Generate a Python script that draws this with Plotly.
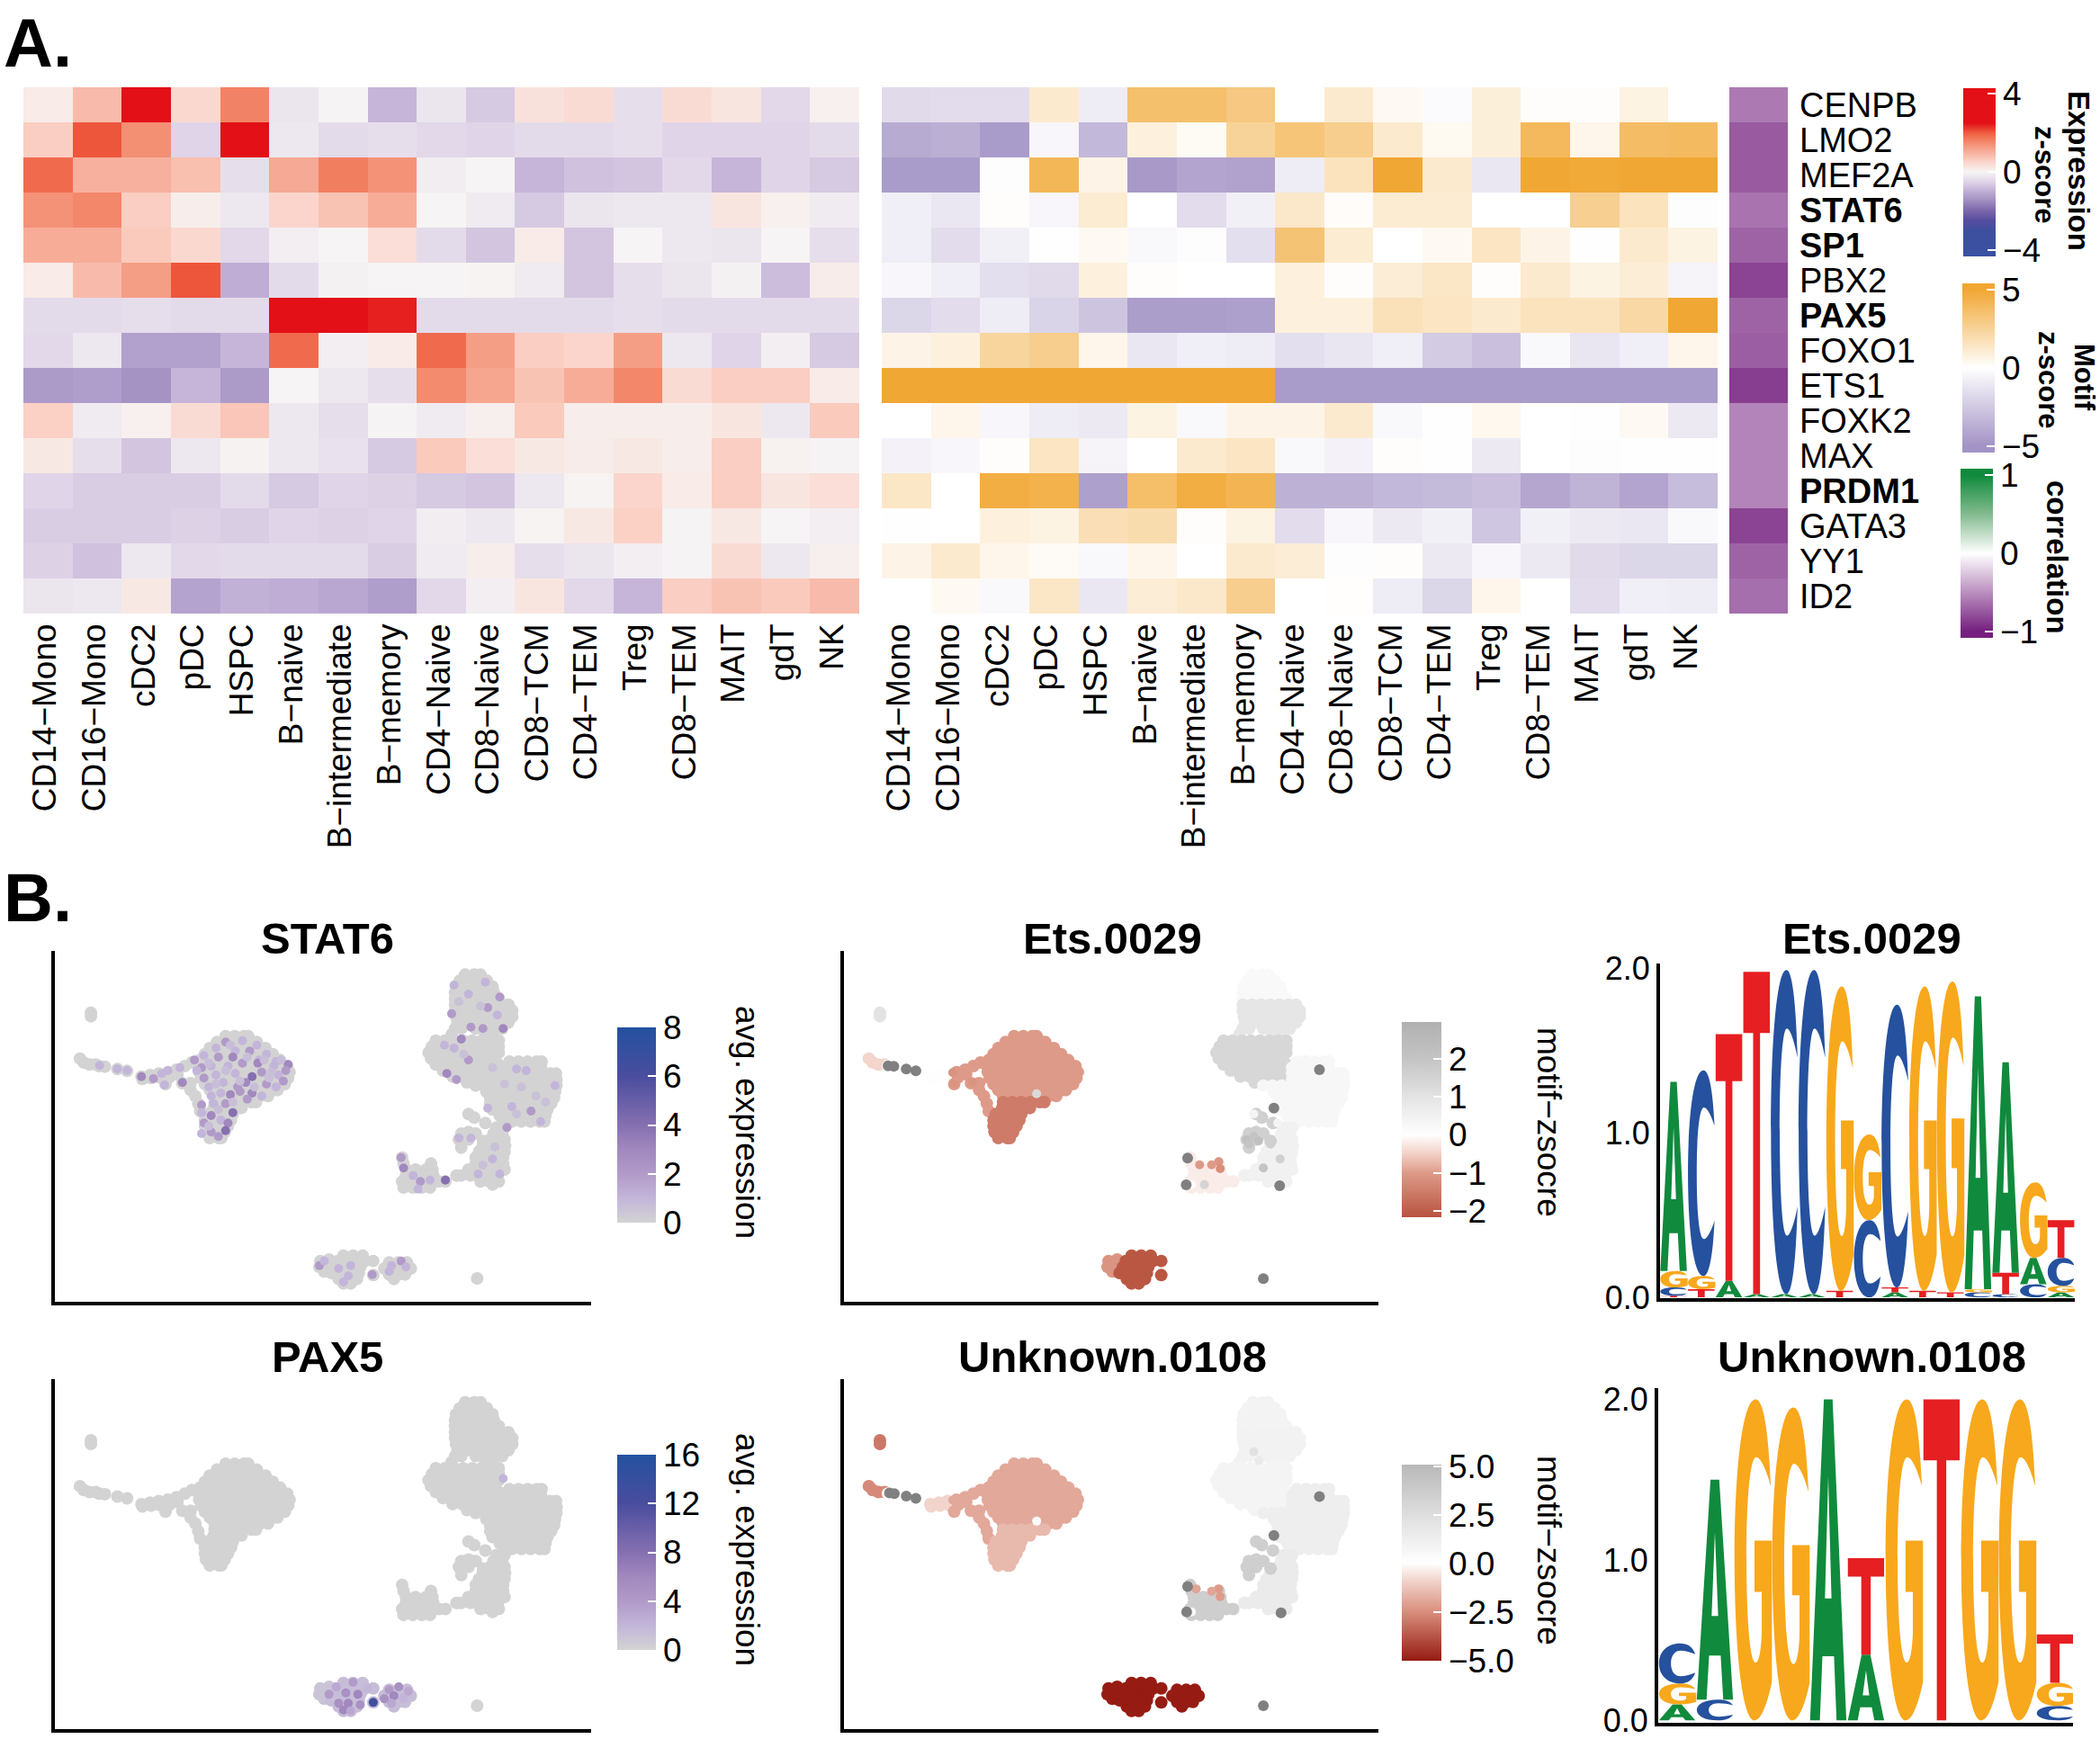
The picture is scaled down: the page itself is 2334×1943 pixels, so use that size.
import plotly.graph_objects as go

W, H = 2334, 1943
FONT = "Liberation Sans"

CELLS = ["CD14−Mono","CD16−Mono","cDC2","pDC","HSPC","B−naive","B−intermediate","B−memory",
         "CD4−Naive","CD8−Naive","CD8−TCM","CD4−TEM","Treg","CD8−TEM","MAIT","gdT","NK"]
GENES = ["CENPB","LMO2","MEF2A","STAT6","SP1","PBX2","PAX5","FOXO1","ETS1","FOXK2","MAX","PRDM1","GATA3","YY1","ID2"]
BOLD_GENES = ["STAT6","SP1","PAX5","PRDM1"]

EXPR = [
 [.15,.85,2.5,.45,1.6,-.25,-.02,-.9,-.25,-.65,.3,.4,-.35,.4,.25,-.45,.07],
 [.6,2.05,1.45,-.5,2.5,-.2,-.4,-.35,-.45,-.5,-.4,-.4,-.35,-.5,-.5,-.5,-.4],
 [1.85,1.0,1.0,.8,-.35,1.1,1.65,1.4,-.12,0,-.9,-.75,-.7,-.45,-.9,-.5,-.65],
 [1.4,1.55,.6,.1,-.2,.5,.75,1.05,0,-.15,-.65,-.25,-.2,-.2,.25,.07,-.15],
 [1.05,1.05,.65,.45,-.45,-.1,0,.35,-.4,-.7,.15,-.7,0,-.2,-.25,0,-.35],
 [.15,.85,1.25,2.05,-1.0,-.4,-.05,0,0,.02,-.15,-.7,-.35,-.25,-.05,-.8,.13],
 [-.4,-.4,-.35,-.4,-.4,2.5,2.5,2.4,-.4,-.4,-.4,-.4,-.35,-.4,-.4,-.4,-.4],
 [-.45,-.2,-1.2,-1.2,-.9,1.85,-.1,.15,1.85,1.25,.6,.5,1.25,-.2,-.5,-.1,-.65],
 [-1.3,-1.25,-1.4,-.9,-1.3,0,-.2,-.35,1.5,1.15,.75,1.05,1.55,.4,.6,.6,.15],
 [.55,-.15,.07,.4,.7,-.2,-.35,-.02,-.15,.08,.65,.1,.12,.1,.25,-.2,.65],
 [.2,-.35,-.7,-.2,.03,-.2,-.3,-.65,.65,.35,.2,.13,.2,.12,.6,.05,-.02],
 [-.5,-.6,-.6,-.6,-.4,-.65,-.5,-.55,-.65,-.7,-.2,.02,.5,.15,.6,.25,.35],
 [-.6,-.6,-.6,-.55,-.6,-.5,-.55,-.5,-.12,-.2,.02,.2,.55,-.02,.2,0,-.1],
 [-.55,-.75,-.2,-.45,-.4,-.4,-.4,-.6,-.15,.1,-.35,-.25,-.1,-.02,.4,-.2,.08],
 [-.25,-.2,.2,-1.15,-.95,-1,-1.1,-1.25,-.45,-.1,.25,-.45,-.9,.6,.75,.65,.85],
]
MOTIF = [
 [-1.7,-1.6,-1.6,1.2,-.9,3.6,3.6,3.1,0,1.2,.3,-.2,.9,.1,.1,.7,0],
 [-3.9,-3.7,-4.6,-.4,-3.3,.8,.25,2.5,3.3,2.8,1.2,.35,.9,4,.5,3.8,3.9],
 [-4.6,-4.6,-.1,4.1,.6,-4.7,-4.2,-4.3,-.9,1.6,5,1.2,-1.1,5,4.9,5,5],
 [-.8,-1.1,.1,-.4,1.1,0,-1.6,-.7,1.3,.15,1.1,1.1,0,0,2.7,1.6,-.1],
 [-.8,-1.6,-.7,-.05,.3,-.3,-.1,-1.5,3.4,1.1,0,.3,1.5,.6,-.05,1.2,.7],
 [-.4,-.8,-1.5,-1.7,.8,.1,0,0,.8,.1,1,1.4,.1,1.2,.7,1,-.5],
 [-1.9,-1.6,-.9,-2,-2.7,-4.5,-4.5,-4.4,.8,.8,1.7,1.5,1.2,1.6,1.6,2.2,5],
 [.6,.8,2.4,2.8,.5,-1.1,-.8,-.9,-1.5,-1.2,-.8,-2.4,-2.9,-.3,-1.2,-.8,.5],
 [5,5,5,5,5,5,5,5,-4.6,-4.6,-4.6,-4.6,-4.6,-4.6,-4.6,-4.6,-4.6],
 [0,.5,-.4,-.9,-1,.7,-.3,.6,.6,1.2,-.3,-.03,.4,0,-.03,.3,-1],
 [-.6,-.4,.1,1.5,-.5,0,1.2,1.5,-.3,-.6,.1,-.03,-1,0,-.1,-.05,-.05],
 [1.4,0,4.6,4.4,-4.4,3.7,4.6,4.2,-3.6,-3.6,-3.3,-3.2,-2.9,-4.1,-3.5,-4.2,-3.1],
 [-.05,0,.8,.7,1.8,2,.1,.7,-1.6,-.4,-1,-.7,-2.6,-.7,-1,-1.1,-.3],
 [.6,1.2,.5,.2,-.3,.5,0,1.2,1,-.1,.1,-1,-.4,-1,-1.7,-1.9,-1.9],
 [0,.3,-.3,1.4,-1.1,1,1.3,2.8,0,.05,-.9,-1.9,.5,-.02,-1.6,-.8,-.9],
]
CORR = [-.6,-.74,-.74,-.63,-.7,-.84,-.7,-.72,-.87,-.55,-.55,-.55,-.84,-.7,-.65]

# UMAP clusters: rows of (y, [x, ...])
DOT1 = [(362,[115]),(374,[115])]
LT1 = [(515,[92]),(528,[100]),(535,[112,125])]
LT2 = [(540,[132]),(542,[144]),(550,[170]),(556,[190])]
TAIL1 = [(575,[220]),(570,[238]),(565,[256]),(583,[222]),(580,[240]),(578,[258])]
TAIL2 = [(560,[275]),(552,[293]),(540,[310]),(528,[325]),(578,[278]),(568,[295]),(600,[270]),(597,[305,322]),(620,[322]),(640,[332]),(665,[338]),(690,[342])]
MONO = [(440,[395,414,433,442]),(460,[377,396,415,434,453,460]),(480,[362,381,400,419,438,457,478]),
        (500,[352,371,390,409,428,447,466,485,493]),(520,[342,361,380,399,418,437,456,475,494,508]),
        (540,[339,358,377,396,415,434,453,472,491,510,523]),(560,[340,359,378,397,416,435,454,473,492,511,528]),
        (580,[344,363,382,401,420,439,458,477,496,515,525]),(600,[352,371,390,409,428,447,466,485,504,518]),
        (620,[362,381,400,419,438,457,476,495,503]),(640,[372,391,410,429,448,467,483])]
CONE = [(660,[372,391,410,429,448,458]),(680,[370,389,408,428]),(700,[357,376,395,410]),(720,[352,371,390,406]),
        (740,[352,371,390,400]),(760,[354,373,393]),(780,[362,381,386])]
T_TOP = [(235,[893,912,925]),(255,[882,901,920,938]),(275,[874,893,912,931,950]),(295,[872,891,910,929,953]),(315,[872,891,910,929,948,963])]
T_NECK = [(335,[872,891,910,929,948,967,983]),(355,[872,891,910,929,948,967,991]),(375,[874,893,912,931,950,969,991]),
          (395,[877,896,915,934,953,972,983]),(415,[872,885,915,934,953,970]),(435,[865,935,950])]
T_MIDL = [(455,[832,851,870,889,908,927,946,963]),(475,[824,843,862,881,900,919,938,957,963]),(495,[817,836,855,874,893,912,931,950,963]),
          (515,[822,841,860,879,898,917,936,955]),(535,[832,851,870,889,908,927,946,963]),(555,[847,866,885,904,923,942,961]),
          (575,[867,886,905,924,943,962]),(595,[897,916,935,954])]
T_RIGHT = [(525,[985,1004,1023,1042,1052]),(545,[975,994,1013,1032,1051]),(565,[975,994,1013,1032,1051,1070,1082]),
           (585,[975,994,1013,1032,1051,1070,1083]),(605,[915,934,953,975,994,1013,1032,1051,1070,1083]),
           (625,[937,956,975,994,1013,1032,1051,1070,1080]),(645,[945,964,983,1002,1021,1040,1059,1078]),
           (665,[945,964,983,1002,1021,1040,1059,1072]),(685,[950,969,988,1007,1026,1045,1064]),
           (705,[965,984,1003,1022,1041,1060]),(725,[975,990,1010,1029,1048,1058])]
T_STRIP = [(745,[958,975]),(765,[952,970]),(785,[945,962,975]),(805,[930,949,968,976]),(825,[922,941,960,975]),(845,[915,934,953,972]),
           (865,[915,934,953,972]),(885,[900,919,938,957,975]),(905,[875,885,904,923,942,961]),(925,[925,944,963]),(935,[950])]
T_SMALL = [(700,[900]),(712,[912]),(730,[935]),(765,[885,915]),(760,[900]),(785,[880,900]),(812,[885]),(790,[930])]
LEFT_CL = [(845,[762]),(865,[765,822]),(885,[770,790,812,825]),(905,[770,789,808,827]),(925,[762,781,800,819,838,852]),(945,[765,784,803,820])]
B_L = [(1190,[592]),(1185,[610]),(1210,[590]),(1205,[605]),(1225,[600])]
B_C = [(1172,[640,660,680]),(1190,[628,647,666,685,702]),(1210,[622,641,660,675]),(1230,[615,634,653,672]),(1250,[630,650,668]),(1265,[640,655]),(1237,[702])]
B_R = [(1195,[735,754,772]),(1215,[725,744,763,780]),(1235,[735,754,768]),(1250,[745])]
NK = [(1248,[918])]
CLUSTERS = [DOT1,LT1,LT2,TAIL1,TAIL2,MONO,CONE,T_TOP,T_NECK,T_MIDL,T_RIGHT,T_STRIP,T_SMALL,LEFT_CL,B_L,B_C,B_R,NK]

# per-cluster colour values, same order as CLUSTERS
STAT6_BASE = [0]*18
PAX5_BASE = [0,0,0,0,0,0,0,0,0,0,0,0,0,0,1,1.5,1.5,0]
ETS_BASE = [1.0,-.45,0,.03,-1,-1,-1.5,.2,.9,1.4,.3,.5,1.6,-.2,-1.1,-2.1,0,0]
UNK_BASE = [-3,-2.6,0,-.9,-1.9,-1.9,-1.5,.9,1,.8,1.3,1.5,3.5,3.6,-5,-5,-5,0]

STAT6_SPOTS_X = [395,430,460,375,415,445,480,350,380,410,465,500,525,330,345,365,400,430,462,495,520,335,350,375,415,450,437,470,505,515,360,390,420,450,480,500,365,385,405,425,440,470,345,370,395,410,365,345,350,385,400,395,365,345,380,
                 220,245,262,300,275,190,170,133,305,268,
                 870,900,935,965,940,960,865,905,930,972,885,850,900,870,855,875,1000,1020,1080,990,1030,1050,980,940,880,905,950,965,920,765,760,785,800,820,852,795,
                 590,600,630,655,650,640,700,740,760,735,770,
                 405,440,475,360,395,425,485,510,375,455,490,410,380,360,
                 880,925,890,950,1040,1010,975,1060,1000,955,930,
                 ]
STAT6_SPOTS_Y = [460,455,470,480,490,490,500,505,510,510,520,525,535,520,545,540,540,530,530,540,555,555,580,570,565,575,595,560,570,590,610,595,610,630,600,610,640,630,635,625,650,640,670,665,665,695,705,695,730,720,730,755,760,765,775,
                 575,582,565,545,555,555,550,538,595,603,
                 270,300,260,310,345,370,365,410,415,415,450,470,520,480,565,585,550,555,605,675,690,725,745,680,780,780,850,900,900,880,845,905,925,920,920,950,
                 1205,1190,1215,1205,1240,1260,1235,1205,1190,1225,1210,
                 470,510,520,530,555,590,580,520,600,610,560,660,685,740,
                 325,340,500,545,640,610,600,660,700,810,870,
                 ]
STAT6_SPOTS_V = [2,1,1,1,1,2,1,1,2,3,1,1,3,2,2,1,1,2,3,1,2,1,2,1,1,4,3,2,1,2,1,1,2,3,2,1,1,1,3,2,2,1,2,1,2,4,3,1,2,1,3,4,2,1,2,
                 3,2,1,1,1,1,1,1,3,1,
                 1,1,1,2,2,1,2,2,2,3,3,1,2,1,3,2,1,1,1,1,2,1,2,1,1,1,1,1,1,3,2,1,2,1,4,1,
                 2,1,1,1,1,1,2,1,2,1,1,
                 .7,.7,.7,.7,.7,.7,.7,.7,.7,.7,.7,.7,.7,.7,
                 .6,.6,.6,.6,.6,.6,.6,.6,.6,.6,.6]
PAX5_SPOTS_X = [590,610,625,645,660,670,630,650,640,655,675,735,755,775,745,725,765,740,690,972,702]
PAX5_SPOTS_Y = [1190,1210,1185,1205,1170,1210,1240,1240,1262,1265,1245,1195,1185,1200,1215,1225,1225,1240,1190,490,1237]
PAX5_SPOTS_V = [1,4,3,5,4,6,5,6,6,3,5,4,5,3,6,5,2,3,2,2,13]

ETS_DARK_X = [132,144,170,190,915,757,754,949,1032,937]
ETS_DARK_Y = [539,541,550,556,1249,847,936,939,552,680]
ETS_SPOTS_X = [442,880,895,905,885,950,915,822,825,807,782,267,270,309,765,792,895,945,930]
ETS_SPOTS_Y = [632,785,775,790,800,850,880,859,882,869,869,562,599,594,935,935,700,730,800]
ETS_SPOTS_V = [1.3,2.2,2.0,2.2,2.0,1.6,2,-1.1,-1.2,-1,-1,-1.1,-1.1,-1.1,.1,1.5,.4,.4,1.6]
UNK_DARK_X = [135,145,170,190,915,757,755,952,1032,937]
UNK_DARK_Y = [538,540,548,556,1248,850,935,938,550,680]
UNK_SPOTS_X = [442,822,825,807,775,267,270,309,765,895,905]
UNK_SPOTS_Y = [632,858,884,866,858,562,600,594,935,400,430]
UNK_SPOTS_V = [.3,-2.2,-2.2,-2,-2,-1.9,-1.9,-1.9,.5,2.2,1.5]

# sequence logos: per position, letters from the bottom up with heights in bits
LOGO_ETS = [
 [("T",.01),("C",.05),("G",.1),("A",1.15)],[("T",.05),("G",.08),("C",1.25)],[("A",.1),("T",1.5)],
 [("A",.02),("T",1.96)],[("A",.02),("C",1.97)],[("A",.02),("C",1.97)],[("T",.04),("G",1.85)],
 [("C",.47),("G",.52)],[("A",.03),("T",.03),("C",1.72)],[("T",.04),("G",1.85)],[("T",.03),("G",1.89)],
 [("C",.03),("G",.02),("A",1.78)],[("C",.02),("T",.13),("A",1.28)],[("C",.08),("A",.16),("G",.46)],
 [("A",.03),("G",.04),("C",.17),("T",.23)],
]
LOGO_UNK = [
 [("A",.1),("G",.13),("C",.25)],[("C",.13),("A",1.37)],[("G",2.0)],[("G",1.95)],[("A",2.0)],
 [("A",.41),("T",.6)],[("G",2.0)],[("T",2.0)],[("G",2.0)],[("G",2.0)],[("C",.09),("G",.145),("T",.3)],
]
LETTER_COLORS = {"A":"#108A3C","C":"#25519E","G":"#F8A81C","T":"#E61F22"}
GLYPHS = {
 "T":"M0,1 L1,1 L1,.81 L.63,.81 L.63,0 L.37,0 L.37,.81 L0,.81 Z",
 "A":"M0,0 L.38,1 L.62,1 L1,0 L.73,0 L.66,.2 L.34,.2 L.27,0 Z M.41,.38 L.59,.38 L.5,.76 Z",
 "C":"M1,.73 C.93,.92 .78,1 .58,1 C.22,1 0,.78 0,.5 C0,.22 .22,0 .58,0 C.78,0 .93,.08 1,.27 C.88,.22 .72,.18 .6,.18 C.42,.18 .33,.32 .33,.5 C.33,.68 .42,.82 .6,.82 C.72,.82 .88,.78 1,.73 Z",
 "G":"M1,.73 C.93,.92 .78,1 .58,1 C.22,1 0,.78 0,.5 C0,.22 .22,0 .55,0 C.75,0 .92,.06 1.03,.12 L1.03,.56 L.55,.56 L.55,.40 L.75,.40 L.75,.27 C.72,.2 .65,.18 .58,.18 C.42,.18 .33,.32 .33,.5 C.33,.68 .42,.82 .6,.82 C.72,.82 .88,.78 1,.73 Z",
}

def fx(p): return p / W
def fy(p): return 1 - p / H
def cs(points, zmin, zmax):
    return [[(z - zmin) / (zmax - zmin), c] for z, c in points]

EXPR_RANGE = (-4.34, 4.3)
EXPR_CS = cs([(-4.34,"#3A50A1"),(-3,"#3D509F"),(-2.5,"#574CA0"),(-2,"#7A66AB"),(-1.5,"#9F8DC0"),(-1,"#BFADD5"),(-.5,"#E0D5E8"),
              (0,"#F6F4F4"),(.5,"#FBD5CB"),(1,"#F7B09D"),(1.5,"#F38B6E"),(2,"#EE5E3F"),(2.5,"#E31017"),(4.3,"#E31017")],*EXPR_RANGE)
MOTIF_RANGE = (-5.43, 5.43)
MOTIF_CS = cs([(-5.43,"#A193C6"),(-5,"#A393C5"),(0,"#FFFFFF"),(5,"#F1A733"),(5.43,"#F1A733")],*MOTIF_RANGE)
CORR_RANGE = (-1.085, 1.085)
CORR_CS = cs([(-1.085,"#75207F"),(-1,"#75207F"),(0,"#FFFFFF"),(.5,"#83BB8F"),(1,"#108A3C"),(1.085,"#108A3C")],*CORR_RANGE)
PURPLE_POINTS = [(0,"#D3D3D3"),(.125,"#C3B5DA"),(.25,"#B19AC8"),(.375,"#A188BE"),(.5,"#8570B0"),(.75,"#4A4D9E"),(1,"#23519F")]
STAT6_CS = cs([(8*t,c) for t,c in PURPLE_POINTS],0,8)
PAX5_CS = cs([(16*t,c) for t,c in PURPLE_POINTS],0,16)
ETS_RANGE = (-2.16, 2.96)
ETS_CS = cs([(-2.16,"#B8533F"),(-1,"#DE9A88"),(-.5,"#F2D0C6"),(0,"#FFFFFF"),(1,"#E3E3E3"),(2,"#C4C4C4"),(2.96,"#B0B0B0")],*ETS_RANGE)
UNK_RANGE = (-5.02, 5.08)
UNK_CS = cs([(-5.02,"#951B12"),(-2.5,"#D98E7C"),(-1,"#F0CFC6"),(0,"#FFFFFF"),(2.5,"#DEDEDE"),(5.08,"#B8B8B8")],*UNK_RANGE)

def colorbar(left, right, top, bottom, tickvals, fmt=None, size=37, prefix=""):
    cb = dict(x=fx(left), xanchor="left", xpad=0, y=fy(bottom), yanchor="bottom", ypad=0,
              len=bottom-top, lenmode="pixels", thickness=right-left, thicknessmode="pixels",
              outlinewidth=0, ticks="inside", ticklen=9, tickcolor="white", tickwidth=2,
              tickvals=tickvals, tickprefix=prefix, tickfont=dict(family=FONT, size=size, color="black"))
    if fmt: cb["tickformat"] = fmt
    return cb

NB = "\u00a0"
fig = go.Figure()
L_AX = dict(xaxis=(26,955), xaxis2=(980,1909), xaxis3=(1922,1987))
LABEL_SHIFT = [-3,-8,0]
HEAT_TOP, HEAT_BOT = 97, 682
tick_texts = [f"<b>{g}</b>" if g in BOLD_GENES else g for g in GENES]

fig.add_trace(go.Heatmap(z=EXPR, x=CELLS, y=GENES, xaxis="x", yaxis="y", zmin=EXPR_RANGE[0], zmax=EXPR_RANGE[1], colorscale=EXPR_CS,
    colorbar=colorbar(2182,2218,98,285,[-4,0,4])))
fig.add_trace(go.Heatmap(z=MOTIF, x=CELLS, y=GENES, xaxis="x2", yaxis="y2", zmin=MOTIF_RANGE[0], zmax=MOTIF_RANGE[1], colorscale=MOTIF_CS,
    colorbar=colorbar(2181,2217,315,503,[-5,0,5])))
fig.add_trace(go.Heatmap(z=[[v] for v in CORR], x=["correlation"], y=GENES, xaxis="x3", yaxis="y3", zmin=CORR_RANGE[0], zmax=CORR_RANGE[1], colorscale=CORR_CS,
    colorbar=colorbar(2179,2215,521,709,[-1,0,1])))

layout = dict(width=W, height=H, margin=dict(l=0,r=0,t=0,b=0,autoexpand=False), paper_bgcolor="white", plot_bgcolor="white",
              font=dict(family=FONT, color="black"), showlegend=False)
for i,(k,(a,b)) in enumerate(L_AX.items()):
    layout[k] = dict(domain=[fx(a),fx(b)], anchor=f"y{i+1 if i else ''}", type="category", showgrid=False, zeroline=False, showline=False,
                     ticks="", tickangle=-90, tickfont=dict(family=FONT,size=37,color="black"), showticklabels=(i<2),
                     ticklabelshift=LABEL_SHIFT[i], ticklabelstandoff=3)
    ykey = "yaxis" + (str(i+1) if i else "")
    layout[ykey] = dict(domain=[fy(HEAT_BOT),fy(HEAT_TOP)], anchor=f"x{i+1 if i else ''}", type="category", autorange="reversed",
                        showgrid=False, zeroline=False, showline=False, ticks="", showticklabels=False)
layout["yaxis3"].update(showticklabels=True, side="right", tickmode="array", tickvals=GENES, ticktext=tick_texts,
                        tickfont=dict(family=FONT,size=38,color="black"), ticklabelstandoff=12)

def expand(rows):
    xs, ys = [], []
    for y, row in rows:
        for x in row:
            xs.append(x); ys.append(y)
    return xs, ys

def base_arrays(values):
    X, Y, V = [], [], []
    for cluster, v in zip(CLUSTERS, values):
        xs, ys = expand(cluster)
        X += xs; Y += ys; V += [v]*len(xs)
    return X, Y, V

UMAPS = [
 dict(name="4", box=(61,657,1057,1447), base=STAT6_BASE, cs=STAT6_CS, rng=(0,8), sx=STAT6_SPOTS_X, sy=STAT6_SPOTS_Y, sv=STAT6_SPOTS_V, dx=[], dy=[],
      cb=colorbar(686,729,1142,1359,[0,2,4,6,8],prefix=NB), ylim=(1326,156)),
 dict(name="5", box=(938,1532,1057,1447), base=ETS_BASE, cs=ETS_CS, rng=ETS_RANGE, sx=ETS_SPOTS_X, sy=ETS_SPOTS_Y, sv=ETS_SPOTS_V, dx=ETS_DARK_X, dy=ETS_DARK_Y,
      cb=colorbar(1558,1602,1136,1353,[-2,-1,0,1,2],prefix=NB), ylim=(1326,156)),
 dict(name="6", box=(61,657,1533,1922), base=PAX5_BASE, cs=PAX5_CS, rng=(0,16), sx=PAX5_SPOTS_X, sy=PAX5_SPOTS_Y, sv=PAX5_SPOTS_V, dx=[], dy=[],
      cb=colorbar(686,729,1617,1834,[0,4,8,12,16],prefix=NB), ylim=(1326,158)),
 dict(name="7", box=(938,1532,1533,1922), base=UNK_BASE, cs=UNK_CS, rng=UNK_RANGE, sx=UNK_SPOTS_X, sy=UNK_SPOTS_Y, sv=UNK_SPOTS_V, dx=UNK_DARK_X, dy=UNK_DARK_Y,
      cb=colorbar(1558,1602,1628,1846,[-5,-2.5,0,2.5,5],fmt=".1f",prefix=NB), ylim=(1326,158)),
]
for u in UMAPS:
    n = u["name"]; a,b,t,bt = u["box"]
    X,Y,V = base_arrays(u["base"])
    fig.add_trace(go.Scatter(x=X,y=Y,mode="markers",xaxis=f"x{n}",yaxis=f"y{n}",hoverinfo="skip",
        marker=dict(size=14,color=V,colorscale=u["cs"],cmin=u["rng"][0],cmax=u["rng"][1],colorbar=u["cb"],showscale=True,line=dict(width=0))))
    fig.add_trace(go.Scatter(x=u["sx"],y=u["sy"],mode="markers",xaxis=f"x{n}",yaxis=f"y{n}",hoverinfo="skip",
        marker=dict(size=10,color=u["sv"],colorscale=u["cs"],cmin=u["rng"][0],cmax=u["rng"][1],showscale=False,line=dict(width=0))))
    if u["dx"]:
        fig.add_trace(go.Scatter(x=u["dx"],y=u["dy"],mode="markers",xaxis=f"x{n}",yaxis=f"y{n}",hoverinfo="skip",
            marker=dict(size=12,color="#808080",line=dict(width=0))))
    layout[f"xaxis{n}"] = dict(domain=[fx(a),fx(b)], anchor=f"y{n}", range=[40,1155], showgrid=False, zeroline=False, showline=True,
                               linecolor="black", linewidth=4, ticks="", showticklabels=False)
    layout[f"yaxis{n}"] = dict(domain=[fy(bt),fy(t)], anchor=f"x{n}", range=list(u["ylim"]), showgrid=False, zeroline=False, showline=True,
                               linecolor="black", linewidth=4, ticks="", showticklabels=False)

def transform_glyph(path, x0, x1, y0, y1):
    out = []
    res = []
    for tok in path.replace(",", " ").split():
        if tok[0] in "MLCZ":
            res.append(tok[0]); tok = tok[1:]
            if not tok: continue
        res.append(float(tok))
    is_x = True
    for tok in res:
        if isinstance(tok,str):
            out.append(tok); is_x = True
        else:
            out.append(f"{x0+(x1-x0)*tok:.4f}" if is_x else f"{y0+(y1-y0)*tok:.4f}")
            is_x = not is_x
    return " ".join(out)

shapes = []
LOGOS = [
 dict(n="8", stacks=LOGO_ETS, box=(1845,2306,1071,1443), xr=(-.49,14.5), yr=(-.005,2.03), hw=.48),
 dict(n="9", stacks=LOGO_UNK, box=(1843,2304,1543,1915), xr=(-.5,10.48), yr=(-.015,2.07), hw=.48),
]
for lg in LOGOS:
    n=lg["n"]; a,b,t,bt=lg["box"]
    totals=[sum(h for _,h in s) for s in lg["stacks"]]
    fig.add_trace(go.Scatter(x=list(range(len(totals))),y=totals,mode="markers",marker=dict(opacity=0,size=1),xaxis=f"x{n}",yaxis=f"y{n}",hoverinfo="skip"))
    layout[f"xaxis{n}"]=dict(domain=[fx(a),fx(b)],anchor=f"y{n}",range=list(lg["xr"]),showgrid=False,zeroline=False,showline=True,linecolor="black",linewidth=4,ticks="",showticklabels=False)
    layout[f"yaxis{n}"]=dict(domain=[fy(bt),fy(t)],anchor=f"x{n}",range=list(lg["yr"]),showgrid=False,zeroline=False,showline=True,linecolor="black",linewidth=4,
                              ticks="",tickvals=[0,1,2],tickformat=".1f",tickfont=dict(family=FONT,size=36,color="black"))
    for i,stack in enumerate(lg["stacks"]):
        base=0
        for letter,h in stack:
            shapes.append(dict(type="path",xref=f"x{n}",yref=f"y{n}",fillcolor=LETTER_COLORS[letter],line=dict(width=0),
                               path=transform_glyph(GLYPHS[letter],i-lg["hw"],i+lg["hw"],base,base+h)))
            base+=h
layout["shapes"]=shapes

def text(t,x,y,size,bold=False,angle=0,anchor="center"):
    return dict(text=f"<b>{t}</b>" if bold else t,x=fx(x),y=fy(y),xref="paper",yref="paper",showarrow=False,
                xanchor=anchor,yanchor="middle",textangle=angle,font=dict(family=FONT,size=size,color="black"))

layout["annotations"]=[
 text("A.",2,47,76,True,anchor="left"), text("B.",2,997,76,True,anchor="left"),
 text("Expression",2311,190,33,True,90), text("z-score",2272,194,31,True,90),
 text("Motif",2317,419,31,True,90), text("z-score",2277,422,31,True,90),
 text("correlation",2287,619,33,True,90),
 text("STAT6",364,1043,49,True), text("Ets.0029",1236,1043,49,True), text("Ets.0029",2080,1043,49,True),
 text("PAX5",364,1508,49,True), text("Unknown.0108",1236,1508,49,True), text("Unknown.0108",2080,1508,49,True),
 text("avg. expression",831,1247,37,False,90), text("avg. expression",831,1722,37,False,90),
 text("motif−zsocre",1722,1247,37,False,90), text("motif−zsocre",1722,1723,37,False,90),
]
fig.update_layout(**layout)
fig.write_html("out.html", config={"displayModeBar":False}, post_script="document.body.style.margin='0';")
